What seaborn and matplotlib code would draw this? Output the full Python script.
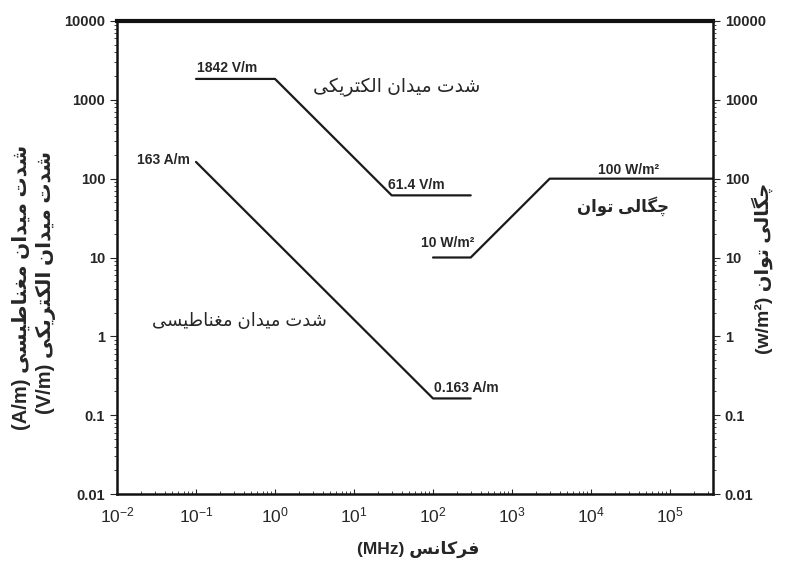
import matplotlib
matplotlib.use("Agg")
import matplotlib.pyplot as plt
import seaborn as sns

# === Data (MHz vs field / power density) ===
freq_e = [0.1, 1, 30, 300]
e_field = [1842, 1842, 61.4, 61.4]

freq_h = [0.1, 100, 300]
h_field = [163, 0.163, 0.163]

freq_s = [100, 300, 3000, 3.5e5]
s_power = [10, 10, 100, 100]

y_ticks = [0.01, 0.1, 1, 10, 100, 1000, 10000]
y_ticklabels = ["0.01", "0.1", "1", "10", "100", "1000", "10000"]
x_ticks = [1e-2, 1e-1, 1e0, 1e1, 1e2, 1e3, 1e4, 1e5]


# === tiny persian shaper (matplotlib has no RTL shaping) ===
FORMS = {
    "ا": ("\uFE8D", "\uFE8E", None, None),
    "د": ("\uFEA9", "\uFEAA", None, None),
    "ر": ("\uFEAD", "\uFEAE", None, None),
    "و": ("\uFEED", "\uFEEE", None, None),
    "ت": ("\uFE95", "\uFE96", "\uFE97", "\uFE98"),
    "س": ("\uFEB1", "\uFEB2", "\uFEB3", "\uFEB4"),
    "ش": ("\uFEB5", "\uFEB6", "\uFEB7", "\uFEB8"),
    "ط": ("\uFEC1", "\uFEC2", "\uFEC3", "\uFEC4"),
    "غ": ("\uFECD", "\uFECE", "\uFECF", "\uFED0"),
    "ف": ("\uFED1", "\uFED2", "\uFED3", "\uFED4"),
    "ل": ("\uFEDD", "\uFEDE", "\uFEDF", "\uFEE0"),
    "م": ("\uFEE1", "\uFEE2", "\uFEE3", "\uFEE4"),
    "ن": ("\uFEE5", "\uFEE6", "\uFEE7", "\uFEE8"),
    "ی": ("\uFBFC", "\uFBFD", "\uFBFE", "\uFBFF"),
    "ک": ("\uFB8E", "\uFB8F", "\uFB90", "\uFB91"),
    "گ": ("\uFB92", "\uFB93", "\uFB94", "\uFB95"),
    "چ": ("\uFB7A", "\uFB7B", "\uFB7C", "\uFB7D"),
}


def fa(text):
    out = []
    for i, ch in enumerate(text):
        if ch not in FORMS:
            out.append(ch)
            continue
        prev = text[i - 1] if i > 0 else None
        nxt = text[i + 1] if i + 1 < len(text) else None
        p = prev in FORMS and FORMS[prev][2] is not None
        n = nxt in FORMS and FORMS[ch][2] is not None
        iso, fin, ini, med = FORMS[ch]
        if p and n:
            out.append(med)
        elif p:
            out.append(fin)
        elif n:
            out.append(ini)
        else:
            out.append(iso)
    return "".join(reversed(out))


# === Style ===
sns.set_style("ticks")
plt.rcParams["font.family"] = ["Liberation Sans", "DejaVu Sans"]
plt.rcParams["mathtext.fontset"] = "custom"
plt.rcParams["mathtext.rm"] = "Liberation Sans"
plt.rcParams["mathtext.bf"] = "Liberation Sans:bold"
plt.rcParams["mathtext.default"] = "bf"

fig = plt.figure(figsize=(7.92, 5.71), dpi=100)
ax = fig.add_axes([117 / 792, 77 / 571, 596 / 792, 473 / 571])

line_kw = dict(color="#1a1a1a", linewidth=1.6, estimator=None, sort=False)
sns.lineplot(x=freq_e, y=e_field, ax=ax, **line_kw)
sns.lineplot(x=freq_h, y=h_field, ax=ax, **line_kw)
sns.lineplot(x=freq_s, y=s_power, ax=ax, **line_kw)

ax.set_xscale("log")
ax.set_yscale("log")
ax.set_xlim(1e-2, 3.5e5)
ax.set_ylim(0.01, 10000)
ax.set_xticks(x_ticks)
ax.set_yticks(y_ticks)
ax.set_yticklabels(y_ticklabels)

for s in ax.spines.values():
    s.set_linewidth(1.8)
    s.set_color("#111111")
ax.spines["top"].set_linewidth(3)

ax.tick_params(axis="x", which="both", direction="in", labelsize=12.5, pad=8)
ax.tick_params(axis="y", which="major", direction="out", length=5, labelsize=10.5)
ax.tick_params(axis="y", which="minor", direction="out", length=2.5)
for lab in ax.get_yticklabels():
    lab.set_fontweight("bold")

# right axis (power density)
ax2 = ax.twinx()
ax2.set_yscale("log")
ax2.set_ylim(0.01, 10000)
ax2.set_yticks(y_ticks)
ax2.set_yticklabels(y_ticklabels, fontweight="bold")
ax2.tick_params(axis="y", which="major", direction="out", length=5, labelsize=10.5)
ax2.tick_params(axis="y", which="minor", direction="out", length=2.5)
for s in ax2.spines.values():
    s.set_visible(False)
ax.spines["right"].set_visible(True)

# === Annotations ===
tk = dict(transform=ax.transAxes, fontsize=10, fontweight="bold", va="center")
ax.text(0.134, 0.900, "1842 V/m", ha="left", **tk)
ax.text(0.122, 0.706, "163 A/m", ha="right", **tk)
ax.text(0.455, 0.653, "61.4 V/m", ha="left", **tk)
ax.text(0.532, 0.224, "0.163 A/m", ha="left", **tk)
ax.text(0.599, 0.531, "10 W/m²", ha="right", **tk)
ax.text(0.807, 0.685, "100 W/m²", ha="left", **tk)

fk = dict(transform=ax.transAxes, ha="center", va="center")
ax.text(0.470, 0.860, fa("شدت میدان الکتریکی"), fontsize=13.5, **fk)
ax.text(0.206, 0.364, fa("شدت میدان مغناطیسی"), fontsize=13, **fk)
ax.text(0.849, 0.609, fa("چگالی توان"), fontsize=12, fontweight="bold", **fk)

# axis titles
fig.text(418 / 792, 1 - 549 / 571, "(MHz) " + fa("فرکانس"),
         ha="center", va="center", fontsize=12.5, fontweight="bold")
fig.text(22 / 792, 1 - 287 / 571, "(A/m) " + fa("شدت میدان مغناطیسی"),
         rotation=90, ha="center", va="center", fontsize=14.5, fontweight="bold")
fig.text(46 / 792, 1 - 282 / 571, "(V/m) " + fa("شدت میدان الکتریکی"),
         rotation=90, ha="center", va="center", fontsize=14.5, fontweight="bold")
fig.text(762 / 792, 1 - 268 / 571, "(w/m²) " + fa("چگالی توان"),
         rotation=90, ha="center", va="center", fontsize=14, fontweight="bold")

plt.savefig("out.png", dpi=100)
